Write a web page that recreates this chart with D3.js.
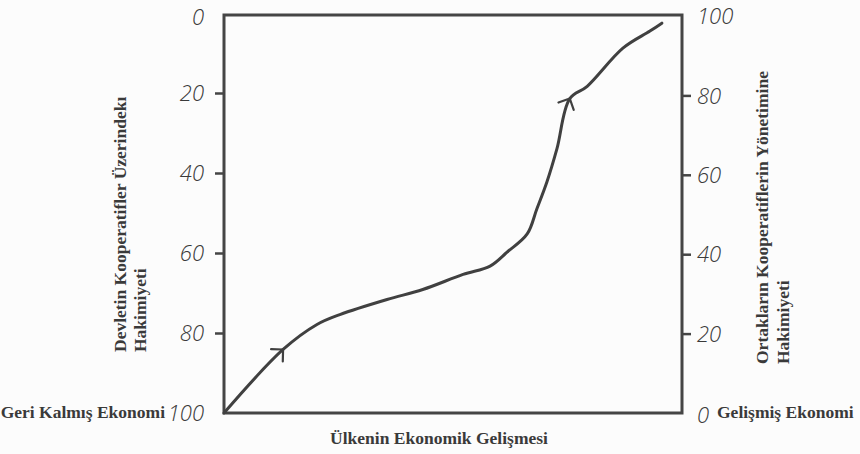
<!DOCTYPE html>
<html><head><meta charset="utf-8">
<script src="https://cdn.jsdelivr.net/npm/d3@7"></script>
<style>body{margin:0;background:#fcfcfc}svg{display:block}</style>
</head><body><svg id="c" width="860" height="454"></svg>
<script>
// Data
const development   = [0, 12.9, 20.3, 25.3, 35.6, 43.4, 52.2, 58.1, 61.8, 66.2, 68.3, 70.5, 72.7, 75.5, 79.3, 87.1, 93.0, 95.6];
const memberControl = [0, 16.0, 22.3, 24.8, 28.6, 31.1, 34.9, 37.0, 40.5, 45.1, 51.4, 58.2, 66.6, 79.2, 82.3, 91.9, 96.2, 98.2];
const arrowIndex = [1, 13];
const stateTicks = [0, 20, 40, 60, 80, 100];
const memberTicks = [0, 20, 40, 60, 80, 100];
const leftTitle = ["Devletin Kooperatifler Üzerindekı", "Hakimiyeti"];
const rightTitle = ["Ortakların Kooperatiflerin Yönetimine", "Hakimiyeti"];
const xTitle = "Ülkenin Ekonomik Gelişmesi";
const leftEnd = "Geri Kalmış Ekonomi";
const rightEnd = "Gelişmiş Ekonomi";

const svg = d3.select("#c");
const box = {l: 224, r: 682, t: 15, b: 413};
const ink = "#3a3a3a";
const x = d3.scaleLinear().domain([0, 100]).range([box.l, box.r]);
const yState = d3.scaleLinear().domain([0, 100]).range([13, box.b]);
const yMember = d3.scaleLinear().domain([0, 100]).range([box.b, 16]);

const hand = "'Open Sans', 'DejaVu Sans', sans-serif";
const serif = "'Liberation Serif', 'Times New Roman', serif";

// frame
svg.append("rect").attr("x", box.l).attr("y", box.t)
  .attr("width", box.r - box.l).attr("height", box.b - box.t)
  .attr("fill", "none").attr("stroke", "#454545").attr("stroke-width", 3);

// left axis
const la = svg.append("g").attr("transform", `translate(${box.l},0)`)
  .call(d3.axisLeft(yState).tickValues(stateTicks).tickSize(9).tickPadding(11).tickFormat(d3.format("d")));
la.select(".domain").remove();
la.selectAll(".tick line").attr("stroke", "#454545").attr("stroke-width", 2.5)
  .attr("display", d => (d === 0 || d === 100) ? "none" : null);
la.selectAll(".tick text").attr("font-family", hand).attr("font-style", "italic")
  .attr("font-weight", 300).attr("font-size", 22).attr("fill", ink)
  .attr("dy", d => d === 0 ? "0.5em" : "0.35em");

// right axis
const ra = svg.append("g").attr("transform", `translate(${box.r},0)`)
  .call(d3.axisRight(yMember).tickValues(memberTicks).tickSize(9).tickPadding(6).tickFormat(d3.format("d")));
ra.select(".domain").remove();
ra.selectAll(".tick line").attr("stroke", "#454545").attr("stroke-width", 2.5)
  .attr("display", d => (d === 0 || d === 100) ? "none" : null);
ra.selectAll(".tick text").attr("font-family", hand).attr("font-style", "italic")
  .attr("font-weight", 300).attr("font-size", 22).attr("fill", ink)
  .attr("dy", d => d === 0 ? "0.45em" : "0.35em");

// curve
const pts = development.map((d, i) => [x(d), yMember(memberControl[i])]);
svg.append("path").attr("d", d3.line().curve(d3.curveCatmullRom.alpha(0.5))(pts))
  .attr("fill", "none").attr("stroke", "#404040").attr("stroke-width", 3)
  .attr("stroke-linecap", "round").attr("stroke-linejoin", "round");

// arrowheads
arrowIndex.forEach(i => {
  const p = pts[i], a = pts[i - 1], b = pts[i + 1];
  const ang = Math.atan2(b[1] - a[1], b[0] - a[0]);
  const L = 12;
  const arm = s => [p[0] - L * Math.cos(ang + s), p[1] - L * Math.sin(ang + s)];
  const p1 = arm(Math.PI / 4), p2 = arm(-Math.PI / 4);
  svg.append("path").attr("d", `M${p1}L${p}L${p2}`)
    .attr("fill", "none").attr("stroke", "#404040").attr("stroke-width", 2.2)
    .attr("stroke-linecap", "round").attr("stroke-linejoin", "round");
});

// titles
const tstyle = s => s.attr("font-family", serif).attr("font-weight", "bold")
  .attr("font-size", 17.5).attr("fill", ink);

const lt = svg.append("g").attr("transform", "translate(126,352) rotate(-90)");
leftTitle.forEach((t, i) => tstyle(lt.append("text").attr("x", 0).attr("y", i * 20).text(t)));
const rt = svg.append("g").attr("transform", "translate(768,364) rotate(-90)");
rightTitle.forEach((t, i) => tstyle(rt.append("text").attr("x", 0).attr("y", i * 21).text(t)));

tstyle(svg.append("text").attr("x", 439).attr("y", 444).attr("text-anchor", "middle").text(xTitle));
tstyle(svg.append("text").attr("x", 165).attr("y", 418).attr("text-anchor", "end").text(leftEnd));
tstyle(svg.append("text").attr("x", 717).attr("y", 418).text(rightEnd));
</script></body></html>
